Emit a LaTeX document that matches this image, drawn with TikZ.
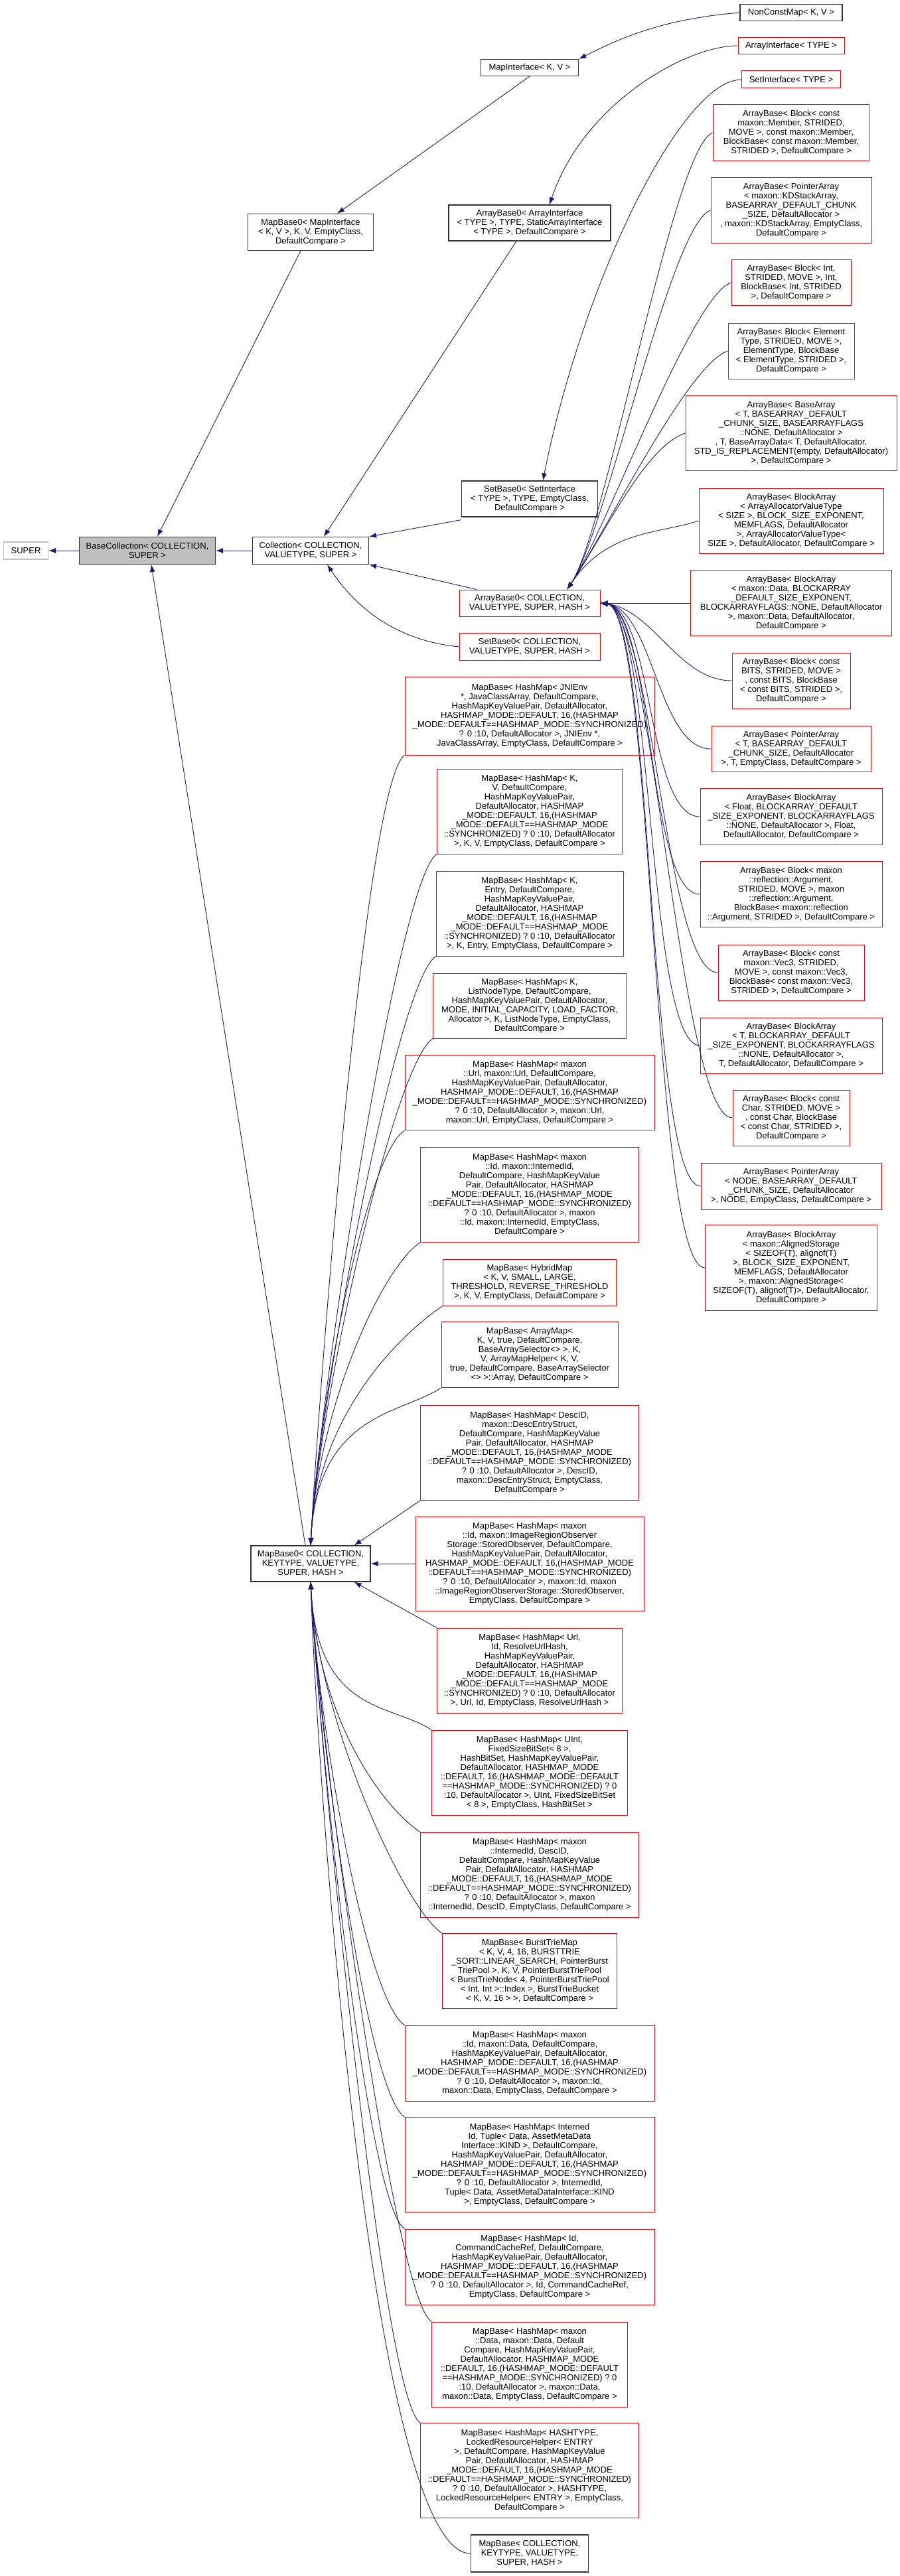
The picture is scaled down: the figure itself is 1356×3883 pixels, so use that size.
\documentclass[tikz,border=0pt]{standalone}
\usepackage{fontspec}
\setmainfont{Liberation Sans}
\usetikzlibrary{arrows.meta}

\definecolor{edgeblue}{HTML}{191970}
\tikzset{
  cls/.style={draw=black!80, line width=1.2pt, inner sep=0pt, align=center,
    font=\fontsize{13}{14}\selectfont},
  redcls/.style={cls, draw=red, line width=1pt},
  edge/.style={draw=edgeblue, line width=0.9pt, -{Latex[length=11pt,width=8pt]}},
}

\begin{document}
\begin{tikzpicture}[x=1pt,y=-1pt]
  \useasboundingbox (0,0) rectangle (1356,3883);

  % left and middle part
  \node[cls, draw=black!25, minimum width=67, minimum height=26] (super) at (39,830) {SUPER};
  \node[cls, fill=black!25, minimum width=205, minimum height=41] (basecoll) at (222,830) {BaseCollection< COLLECTION,\\SUPER >};
  \node[cls, minimum width=175, minimum height=41] (coll) at (468,830) {Collection< COLLECTION,\\VALUETYPE, SUPER >};
  \node[cls, minimum width=154, minimum height=25] (nonconst) at (1192,19) {NonConstMap< K, V >};
  \node[redcls, minimum width=160, minimum height=25] (arrif) at (1192,69) {ArrayInterface< TYPE >};
  \node[redcls, minimum width=149, minimum height=26] (setif) at (1192,120) {SetInterface< TYPE >};
  \node[cls, minimum width=147, minimum height=25] (mapif) at (798,102) {MapInterface< K, V >};
  \node[cls, minimum width=189, minimum height=55] (mbzmi) at (468,350) {MapBase0< MapInterface\\< K, V >, K, V, EmptyClass,\\DefaultCompare >};
  \node[cls, minimum width=244, minimum height=54] (abzai) at (798,336) {ArrayBase0< ArrayInterface\\< TYPE >, TYPE, StaticArrayInterface\\< TYPE >, DefaultCompare >};
  \node[cls, minimum width=205, minimum height=54] (sbzsi) at (798,752) {SetBase0< SetInterface\\< TYPE >, TYPE, EmptyClass,\\DefaultCompare >};
  \node[redcls, minimum width=212, minimum height=40] (abzc) at (798,909) {ArrayBase0< COLLECTION,\\VALUETYPE, SUPER, HASH >};
  \node[redcls, minimum width=212, minimum height=41] (sbzc) at (798,975) {SetBase0< COLLECTION,\\VALUETYPE, SUPER, HASH >};
  \node[cls, minimum width=180, minimum height=54] (mbzc) at (468,2357) {MapBase0< COLLECTION,\\KEYTYPE, VALUETYPE,\\SUPER, HASH >};

  % ArrayBase column
  \node[redcls, minimum width=235, minimum height=84] (abmember) at (1192,200) {ArrayBase< Block< const\\maxon::Member, STRIDED,\\MOVE >, const maxon::Member,\\BlockBase< const maxon::Member,\\STRIDED >, DefaultCompare >};
  \node[redcls, minimum width=242, minimum height=99] (abkd) at (1192,317) {ArrayBase< PointerArray\\< maxon::KDStackArray,\\BASEARRAY\_DEFAULT\_CHUNK\\\_SIZE, DefaultAllocator >\\, maxon::KDStackArray, EmptyClass,\\DefaultCompare >};
  \node[redcls, minimum width=180, minimum height=69] (abint) at (1192,426) {ArrayBase< Block< Int,\\STRIDED, MOVE >, Int,\\BlockBase< Int, STRIDED\\>, DefaultCompare >};
  \node[redcls, minimum width=190, minimum height=84] (abelem) at (1192,529) {ArrayBase< Block< Element\\Type, STRIDED, MOVE >,\\ElementType, BlockBase\\< ElementType, STRIDED >,\\DefaultCompare >};
  \node[redcls, minimum width=318, minimum height=113] (abbase) at (1192,653) {ArrayBase< BaseArray\\< T, BASEARRAY\_DEFAULT\\\_CHUNK\_SIZE, BASEARRAYFLAGS\\::NONE, DefaultAllocator >\\, T, BaseArrayData< T, DefaultAllocator,\\STD\_IS\_REPLACEMENT(empty, DefaultAllocator)\\>, DefaultCompare >};
  \node[redcls, minimum width=278, minimum height=98] (abaavt) at (1192,785) {ArrayBase< BlockArray\\< ArrayAllocatorValueType\\< SIZE >, BLOCK\_SIZE\_EXPONENT,\\MEMFLAGS, DefaultAllocator\\>, ArrayAllocatorValueType<\\SIZE >, DefaultAllocator, DefaultCompare >};
  \node[redcls, minimum width=303, minimum height=99] (abdata) at (1192,909) {ArrayBase< BlockArray\\< maxon::Data, BLOCKARRAY\\\_DEFAULT\_SIZE\_EXPONENT,\\BLOCKARRAYFLAGS::NONE, DefaultAllocator\\>, maxon::Data, DefaultAllocator,\\DefaultCompare >};
  \node[redcls, minimum width=178, minimum height=84] (abbits) at (1192,1026) {ArrayBase< Block< const\\BITS, STRIDED, MOVE >\\, const BITS, BlockBase\\< const BITS, STRIDED >,\\DefaultCompare >};
  \node[redcls, minimum width=240, minimum height=69] (abptrt) at (1192,1129) {ArrayBase< PointerArray\\< T, BASEARRAY\_DEFAULT\\\_CHUNK\_SIZE, DefaultAllocator\\>, T, EmptyClass, DefaultCompare >};
  \node[redcls, minimum width=274, minimum height=85] (abfloat) at (1192,1231) {ArrayBase< BlockArray\\< Float, BLOCKARRAY\_DEFAULT\\\_SIZE\_EXPONENT, BLOCKARRAYFLAGS\\::NONE, DefaultAllocator >, Float,\\DefaultAllocator, DefaultCompare >};
  \node[redcls, minimum width=274, minimum height=99] (abrefl) at (1192,1348) {ArrayBase< Block< maxon\\::reflection::Argument,\\STRIDED, MOVE >, maxon\\::reflection::Argument,\\BlockBase< maxon::reflection\\::Argument, STRIDED >, DefaultCompare >};
  \node[redcls, minimum width=220, minimum height=84] (abvec) at (1192,1466) {ArrayBase< Block< const\\maxon::Vec3, STRIDED,\\MOVE >, const maxon::Vec3,\\BlockBase< const maxon::Vec3,\\STRIDED >, DefaultCompare >};
  \node[redcls, minimum width=274, minimum height=84] (abblkt) at (1192,1576) {ArrayBase< BlockArray\\< T, BLOCKARRAY\_DEFAULT\\\_SIZE\_EXPONENT, BLOCKARRAYFLAGS\\::NONE, DefaultAllocator >,\\T, DefaultAllocator, DefaultCompare >};
  \node[redcls, minimum width=176, minimum height=84] (abchar) at (1192,1685) {ArrayBase< Block< const\\Char, STRIDED, MOVE >\\, const Char, BlockBase\\< const Char, STRIDED >,\\DefaultCompare >};
  \node[redcls, minimum width=272, minimum height=70] (abnode) at (1192,1788) {ArrayBase< PointerArray\\< NODE, BASEARRAY\_DEFAULT\\\_CHUNK\_SIZE, DefaultAllocator\\>, NODE, EmptyClass, DefaultCompare >};
  \node[redcls, minimum width=259, minimum height=129] (abalign) at (1192,1911) {ArrayBase< BlockArray\\< maxon::AlignedStorage\\< SIZEOF(T), alignof(T)\\>, BLOCK\_SIZE\_EXPONENT,\\MEMFLAGS, DefaultAllocator\\>, maxon::AlignedStorage<\\SIZEOF(T), alignof(T)>, DefaultAllocator,\\DefaultCompare >};

  % MapBase column
  \node[redcls, minimum width=376, minimum height=118] (mbjni) at (798,1079) {MapBase< HashMap< JNIEnv\\*, JavaClassArray, DefaultCompare,\\HashMapKeyValuePair, DefaultAllocator,\\HASHMAP\_MODE::DEFAULT, 16,(HASHMAP\\\_MODE::DEFAULT==HASHMAP\_MODE::SYNCHRONIZED)\\? 0 :10, DefaultAllocator >, JNIEnv *,\\JavaClassArray, EmptyClass, DefaultCompare >};
  \node[redcls, minimum width=279, minimum height=128] (mbkv) at (798,1223) {MapBase< HashMap< K,\\V, DefaultCompare,\\HashMapKeyValuePair,\\DefaultAllocator, HASHMAP\\\_MODE::DEFAULT, 16,(HASHMAP\\\_MODE::DEFAULT==HASHMAP\_MODE\\::SYNCHRONIZED) ? 0 :10, DefaultAllocator\\>, K, V, EmptyClass, DefaultCompare >};
  \node[redcls, minimum width=282, minimum height=128] (mbentry) at (798,1377) {MapBase< HashMap< K,\\Entry, DefaultCompare,\\HashMapKeyValuePair,\\DefaultAllocator, HASHMAP\\\_MODE::DEFAULT, 16,(HASHMAP\\\_MODE::DEFAULT==HASHMAP\_MODE\\::SYNCHRONIZED) ? 0 :10, DefaultAllocator\\>, K, Entry, EmptyClass, DefaultCompare >};
  \node[redcls, minimum width=291, minimum height=98] (mblist) at (798,1516) {MapBase< HashMap< K,\\ListNodeType, DefaultCompare,\\HashMapKeyValuePair, DefaultAllocator,\\MODE, INITIAL\_CAPACITY, LOAD\_FACTOR,\\Allocator >, K, ListNodeType, EmptyClass,\\DefaultCompare >};
  \node[redcls, minimum width=376, minimum height=113] (mburl) at (798,1647) {MapBase< HashMap< maxon\\::Url, maxon::Url, DefaultCompare,\\HashMapKeyValuePair, DefaultAllocator,\\HASHMAP\_MODE::DEFAULT, 16,(HASHMAP\\\_MODE::DEFAULT==HASHMAP\_MODE::SYNCHRONIZED)\\? 0 :10, DefaultAllocator >, maxon::Url,\\maxon::Url, EmptyClass, DefaultCompare >};
  \node[redcls, minimum width=329, minimum height=143] (mbinterned) at (798,1801) {MapBase< HashMap< maxon\\::Id, maxon::InternedId,\\DefaultCompare, HashMapKeyValue\\Pair, DefaultAllocator, HASHMAP\\\_MODE::DEFAULT, 16,(HASHMAP\_MODE\\::DEFAULT==HASHMAP\_MODE::SYNCHRONIZED)\\? 0 :10, DefaultAllocator >, maxon\\::Id, maxon::InternedId, EmptyClass,\\DefaultCompare >};
  \node[redcls, minimum width=261, minimum height=70] (mbhybrid) at (798,1933) {MapBase< HybridMap\\< K, V, SMALL, LARGE,\\THRESHOLD, REVERSE\_THRESHOLD\\>, K, V, EmptyClass, DefaultCompare >};
  \node[redcls, minimum width=266, minimum height=99] (mbarraymap) at (798,2042) {MapBase< ArrayMap<\\K, V, true, DefaultCompare,\\BaseArraySelector<> >, K,\\V, ArrayMapHelper< K, V,\\true, DefaultCompare, BaseArraySelector\\<> >::Array, DefaultCompare >};
  \node[redcls, minimum width=329, minimum height=143] (mbdescid) at (798,2190) {MapBase< HashMap< DescID,\\maxon::DescEntryStruct,\\DefaultCompare, HashMapKeyValue\\Pair, DefaultAllocator, HASHMAP\\\_MODE::DEFAULT, 16,(HASHMAP\_MODE\\::DEFAULT==HASHMAP\_MODE::SYNCHRONIZED)\\? 0 :10, DefaultAllocator >, DescID,\\maxon::DescEntryStruct, EmptyClass,\\DefaultCompare >};
  \node[redcls, minimum width=344, minimum height=142] (mbimage) at (798,2357) {MapBase< HashMap< maxon\\::Id, maxon::ImageRegionObserver\\Storage::StoredObserver, DefaultCompare,\\HashMapKeyValuePair, DefaultAllocator,\\HASHMAP\_MODE::DEFAULT, 16,(HASHMAP\_MODE\\::DEFAULT==HASHMAP\_MODE::SYNCHRONIZED)\\? 0 :10, DefaultAllocator >, maxon::Id, maxon\\::ImageRegionObserverStorage::StoredObserver,\\EmptyClass, DefaultCompare >};
  \node[redcls, minimum width=279, minimum height=128] (mbresolve) at (798,2518) {MapBase< HashMap< Url,\\Id, ResolveUrlHash,\\HashMapKeyValuePair,\\DefaultAllocator, HASHMAP\\\_MODE::DEFAULT, 16,(HASHMAP\\\_MODE::DEFAULT==HASHMAP\_MODE\\::SYNCHRONIZED) ? 0 :10, DefaultAllocator\\>, Url, Id, EmptyClass, ResolveUrlHash >};
  \node[redcls, minimum width=295, minimum height=128] (mbuint) at (798,2672) {MapBase< HashMap< UInt,\\FixedSizeBitSet< 8 >,\\HashBitSet, HashMapKeyValuePair,\\DefaultAllocator, HASHMAP\_MODE\\::DEFAULT, 16,(HASHMAP\_MODE::DEFAULT\\==HASHMAP\_MODE::SYNCHRONIZED) ? 0\\:10, DefaultAllocator >, UInt, FixedSizeBitSet\\< 8 >, EmptyClass, HashBitSet >};
  \node[redcls, minimum width=329, minimum height=128] (mbinterndesc) at (798,2826) {MapBase< HashMap< maxon\\::InternedId, DescID,\\DefaultCompare, HashMapKeyValue\\Pair, DefaultAllocator, HASHMAP\\\_MODE::DEFAULT, 16,(HASHMAP\_MODE\\::DEFAULT==HASHMAP\_MODE::SYNCHRONIZED)\\? 0 :10, DefaultAllocator >, maxon\\::InternedId, DescID, EmptyClass, DefaultCompare >};
  \node[redcls, minimum width=263, minimum height=113] (mbburst) at (798,2971) {MapBase< BurstTrieMap\\< K, V, 4, 16, BURSTTRIE\\\_SORT::LINEAR\_SEARCH, PointerBurst\\TriePool >, K, V, PointerBurstTriePool\\< BurstTrieNode< 4, PointerBurstTriePool\\< Int, Int >::Index >, BurstTrieBucket\\< K, V, 16 > >, DefaultCompare >};
  \node[redcls, minimum width=376, minimum height=114] (mbiddata) at (798,3110) {MapBase< HashMap< maxon\\::Id, maxon::Data, DefaultCompare,\\HashMapKeyValuePair, DefaultAllocator,\\HASHMAP\_MODE::DEFAULT, 16,(HASHMAP\\\_MODE::DEFAULT==HASHMAP\_MODE::SYNCHRONIZED)\\? 0 :10, DefaultAllocator >, maxon::Id,\\maxon::Data, EmptyClass, DefaultCompare >};
  \node[redcls, minimum width=376, minimum height=143] (mbtuple) at (798,3263) {MapBase< HashMap< Interned\\Id, Tuple< Data, AssetMetaData\\Interface::KIND >, DefaultCompare,\\HashMapKeyValuePair, DefaultAllocator,\\HASHMAP\_MODE::DEFAULT, 16,(HASHMAP\\\_MODE::DEFAULT==HASHMAP\_MODE::SYNCHRONIZED)\\? 0 :10, DefaultAllocator >, InternedId,\\Tuple< Data, AssetMetaDataInterface::KIND\\>, EmptyClass, DefaultCompare >};
  \node[redcls, minimum width=376, minimum height=114] (mbcmd) at (798,3417) {MapBase< HashMap< Id,\\CommandCacheRef, DefaultCompare,\\HashMapKeyValuePair, DefaultAllocator,\\HASHMAP\_MODE::DEFAULT, 16,(HASHMAP\\\_MODE::DEFAULT==HASHMAP\_MODE::SYNCHRONIZED)\\? 0 :10, DefaultAllocator >, Id, CommandCacheRef,\\EmptyClass, DefaultCompare >};
  \node[redcls, minimum width=295, minimum height=128] (mbdata) at (798,3564) {MapBase< HashMap< maxon\\::Data, maxon::Data, Default\\Compare, HashMapKeyValuePair,\\DefaultAllocator, HASHMAP\_MODE\\::DEFAULT, 16,(HASHMAP\_MODE::DEFAULT\\==HASHMAP\_MODE::SYNCHRONIZED) ? 0\\:10, DefaultAllocator >, maxon::Data,\\maxon::Data, EmptyClass, DefaultCompare >};
  \node[redcls, minimum width=329, minimum height=143] (mbhashtype) at (798,3724) {MapBase< HashMap< HASHTYPE,\\LockedResourceHelper< ENTRY\\>, DefaultCompare, HashMapKeyValue\\Pair, DefaultAllocator, HASHMAP\\\_MODE::DEFAULT, 16,(HASHMAP\_MODE\\::DEFAULT==HASHMAP\_MODE::SYNCHRONIZED)\\? 0 :10, DefaultAllocator >, HASHTYPE,\\LockedResourceHelper< ENTRY >, EmptyClass,\\DefaultCompare >};
  \node[cls, minimum width=177, minimum height=56] (mbcoll) at (798,3849) {MapBase< COLLECTION,\\KEYTYPE, VALUETYPE,\\SUPER, HASH >};

  % inheritance edges, head at the base class
  \draw[edge] (basecoll) -- (super);
  \draw[edge] (coll) -- (basecoll);
  \draw[edge] (nonconst.west) .. controls +(-120,10) and +(60,-30) .. (mapif.north east);
  \draw[edge] (mapif.south) -- ([xshift=40]mbzmi.north);
  \draw[edge] ([xshift=-15]mbzmi.south) -- ([xshift=15]basecoll.north);
  \draw[edge] (arrif.west) .. controls +(-80,0) and +(50,-150) .. ([xshift=30]abzai.north);
  \draw[edge] ([xshift=-20]abzai.south) -- ([xshift=20]coll.north);
  \draw[edge] (setif.west) .. controls +(-90,0) and +(60,-300) .. ([xshift=20]sbzsi.north);
  \draw[edge] ([yshift=-4]sbzsi.south west) -- (coll.north east);
  \draw[edge] ([xshift=-80]abzc.north) -- (coll.south east);
  \draw[edge] (sbzc.west) .. controls +(-100,-10) and +(40,60) .. ([xshift=25]coll.south);
  \draw[edge] ([xshift=-8]mbzc.north) -- ([xshift=6]basecoll.south);

  % ArrayBase children
  \foreach \n in {abmember,abkd,abint,abelem,abbase,abaavt}
    \draw[edge] (\n.west) .. controls +(-60,20) and +(60,-90) .. ([xshift=-50]abzc.north east);
  \draw[edge] (abdata.west) -- (abzc.east);
  \foreach \n in {abbits,abptrt,abfloat,abrefl,abvec,abblkt,abchar,abnode,abalign}
    \draw[edge] (\n.west) .. controls +(-80,0) and +(80,10) .. (abzc.east);

  % MapBase children
  \foreach \n in {mbjni,mbkv,mbentry,mblist,mburl,mbinterned,mbhybrid,mbarraymap}
    \draw[edge] (\n.south west) .. controls +(-60,40) and +(10,-200) .. (mbzc.north);
  \draw[edge] (mbdescid.south west) -- ([xshift=-25]mbzc.north east);
  \draw[edge] (mbimage.west) -- (mbzc.east);
  \draw[edge] (mbresolve.north west) -- ([xshift=-25]mbzc.south east);
  \foreach \n in {mbuint,mbinterndesc,mbburst,mbiddata,mbtuple,mbcmd,mbdata,mbhashtype}
    \draw[edge] (\n.north west) .. controls +(-60,-40) and +(10,200) .. (mbzc.south);
  \draw[edge] (mbcoll.west) .. controls +(-150,0) and +(10,300) .. (mbzc.south);
\end{tikzpicture}
\end{document}
